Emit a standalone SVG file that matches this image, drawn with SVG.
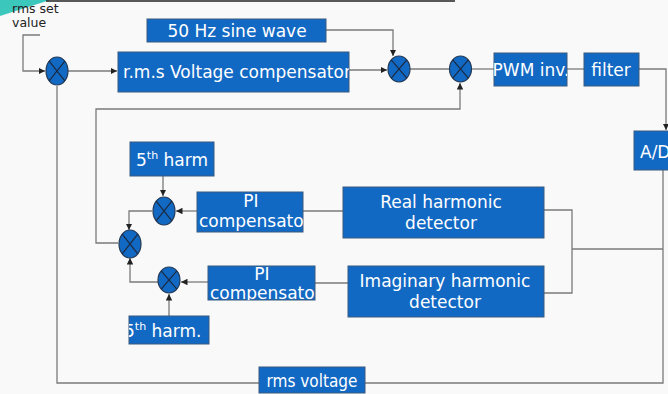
<svg xmlns="http://www.w3.org/2000/svg" width="668" height="394" viewBox="0 0 668 394">
<defs>
<style>
.box{fill:#1269c4;stroke:#3a5a80;stroke-width:1}
.t{fill:#fff;font-family:"DejaVu Sans",Verdana,sans-serif;font-size:17px;text-anchor:middle}
.sum{fill:#1269c4;stroke:#253a55;stroke-width:1.2}
.x{stroke:#1b2a40;stroke-width:1.2}
.c{fill:none;stroke:#7a7a7a;stroke-width:1.3}
.lbl{fill:#222;font-family:"DejaVu Sans",Verdana,sans-serif;font-size:12.5px}
</style>
<marker id="a" viewBox="0 0 10 10" refX="10" refY="5" markerWidth="5" markerHeight="5" orient="auto"><path d="M0,0L10,5L0,10z" fill="#222"/></marker>
<clipPath id="clipRms"><rect x="118" y="52" width="231" height="40"/></clipPath>
<clipPath id="clipPWM"><rect x="494" y="53" width="73" height="33"/></clipPath>
<clipPath id="clipPI1"><rect x="197" y="192" width="106" height="40"/></clipPath>
<clipPath id="clipPI2"><rect x="208" y="266" width="107" height="34"/></clipPath>
<clipPath id="clipH2"><rect x="129" y="316" width="80" height="28"/></clipPath>
</defs>
<rect width="668" height="394" fill="#f9f9f9"/>
<path d="M0,0L50,0L0,16z" fill="#3cc7bd"/>
<line x1="46" y1="1" x2="455" y2="1" stroke="#222" stroke-width="1.6"/>
<text class="lbl" x="12" y="13">rms set</text>
<text class="lbl" x="12" y="27">value</text>

<g id="connectors">
<path class="c" d="M40,35H23V71H45" marker-end="url(#a)"/>
<path class="c" d="M68,71H117" marker-end="url(#a)"/>
<path class="c" d="M349,70H387" marker-end="url(#a)"/>
<path class="c" d="M326,30H393V56" marker-end="url(#a)"/>
<path class="c" d="M410,69H449"/>
<path class="c" d="M472,69H494"/>
<path class="c" d="M567,69H584"/>
<path class="c" d="M639,69H666V130" marker-end="url(#a)"/>
<path class="c" d="M118,243H96V109H460V83" marker-end="url(#a)"/>
<path class="c" d="M163,176V196" marker-end="url(#a)"/>
<path class="c" d="M197,211H176" marker-end="url(#a)"/>
<path class="c" d="M152,211H129V230" marker-end="url(#a)"/>
<path class="c" d="M343,211H303"/>
<path class="c" d="M544,210H572V293H544"/>
<path class="c" d="M572,249H663"/>
<path class="c" d="M663,170V383H57V86"/>
<path class="c" d="M348,283H315"/>
<path class="c" d="M208,282H181" marker-end="url(#a)"/>
<path class="c" d="M158,282H130V258" marker-end="url(#a)"/>
<path class="c" d="M169,316V294" marker-end="url(#a)"/>
</g>

<g id="sine"><rect class="box" x="147" y="19" width="179" height="23"/><text class="t" x="237" y="37">50 Hz sine wave</text></g>
<g id="rmscomp"><rect class="box" x="118" y="52" width="231" height="40"/><text class="t" x="123" y="78" style="text-anchor:start" clip-path="url(#clipRms)">r.m.s Voltage compensator</text></g>
<g id="pwm"><rect class="box" x="494" y="53" width="73" height="33"/><text class="t" x="531" y="76" clip-path="url(#clipPWM)">PWM inv.</text></g>
<g id="filter"><rect class="box" x="584" y="53" width="55" height="33"/><text class="t" x="611" y="76">filter</text></g>
<g id="ad"><rect class="box" x="634" y="131" width="40" height="39"/><text class="t" x="640" y="158" style="text-anchor:start">A/D</text></g>
<g id="harm1"><rect class="box" x="130" y="142" width="84" height="34"/><text class="t" x="172" y="166">5<tspan font-size="11" dy="-7">th</tspan><tspan dy="7"> harm</tspan></text></g>
<g id="pi1"><rect class="box" x="197" y="192" width="106" height="40"/><g clip-path="url(#clipPI1)"><text class="t" x="251" y="207">PI</text><text class="t" x="199" y="227" style="text-anchor:start">compensator</text></g></g>
<g id="real"><rect class="box" x="343" y="187" width="201" height="51"/><text class="t" x="441" y="208">Real harmonic</text><text class="t" x="441" y="229">detector</text></g>
<g id="imag"><rect class="box" x="348" y="266" width="196" height="51"/><text class="t" x="445" y="287">Imaginary harmonic</text><text class="t" x="445" y="308">detector</text></g>
<g id="pi2"><rect class="box" x="208" y="266" width="107" height="34"/><g clip-path="url(#clipPI2)"><text class="t" x="262" y="280">PI</text><text class="t" x="210" y="299" style="text-anchor:start">compensator</text></g></g>
<g id="harm2"><rect class="box" x="129" y="316" width="80" height="28"/><g clip-path="url(#clipH2)"><text class="t" x="124" y="337" style="text-anchor:start">5<tspan font-size="11" dy="-7">th</tspan><tspan dy="7"> harm.</tspan></text></g></g>
<g id="rmsv"><rect class="box" x="259" y="367" width="106" height="26"/><text class="t" x="312" y="387" style="font-family:'DejaVu Sans Condensed','DejaVu Sans',sans-serif;font-size:17px">rms voltage</text></g>

<g id="s1"><ellipse class="sum" cx="57" cy="71" rx="11" ry="14"/><path class="x" d="M49.2,61.1L64.8,80.9M64.8,61.1L49.2,80.9"/></g>
<g id="s2"><ellipse class="sum" cx="399" cy="69" rx="11" ry="13"/><path class="x" d="M391.2,59.8L406.8,78.2M406.8,59.8L391.2,78.2"/></g>
<g id="s3"><ellipse class="sum" cx="460.5" cy="69" rx="11" ry="13"/><path class="x" d="M452.7,59.8L468.3,78.2M468.3,59.8L452.7,78.2"/></g>
<g id="s4"><ellipse class="sum" cx="164" cy="211" rx="11" ry="14"/><path class="x" d="M156.2,201.1L171.8,220.9M171.8,201.1L156.2,220.9"/></g>
<g id="s5"><ellipse class="sum" cx="130" cy="244" rx="11" ry="14"/><path class="x" d="M122.2,234.1L137.8,253.9M137.8,234.1L122.2,253.9"/></g>
<g id="s6"><ellipse class="sum" cx="169" cy="280" rx="11" ry="13"/><path class="x" d="M161.2,270.8L176.8,289.2M176.8,270.8L161.2,289.2"/></g>
</svg>
